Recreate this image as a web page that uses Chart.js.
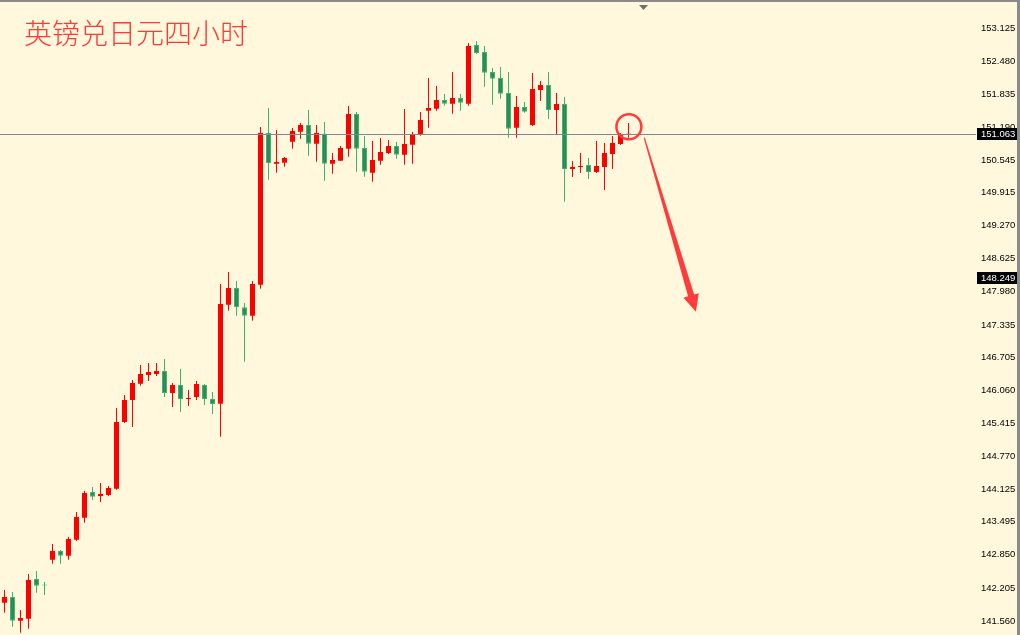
<!DOCTYPE html>
<html>
<head>
<meta charset="utf-8">
<script src="https://cdn.jsdelivr.net/npm/chart.js@4"></script>
<style>
  html, body { margin: 0; padding: 0; background: #fff8dc; }
  #wrap { position: relative; width: 1020px; height: 635px; }
</style>
</head>
<body>
<div id="wrap"><canvas id="chart" width="1020" height="635"></canvas></div>
<script>
const chartTitle = '英镑兑日元四小时';

// GBP/JPY H4 candles
const opens = [141.917, 142.028, 141.565, 141.605, 142.379, 142.256, 142.755, 142.925, 142.833, 143.145,
  143.574, 144.076, 143.998, 144.017, 144.140, 145.441, 145.870, 146.188, 146.357, 146.377,
  146.435, 146.006, 146.162, 145.889, 145.928, 146.162, 145.889, 145.798, 147.728, 148.054,
  147.678, 147.514, 148.119, 151.077, 150.478, 150.498, 150.907, 151.102, 151.233, 150.868,
  151.063, 150.478, 150.537, 150.771, 151.448, 150.785, 150.303, 150.537, 150.687, 150.824,
  150.654, 150.849, 151.044, 151.512, 151.551, 151.721, 151.649, 151.760, 151.649, 152.793,
  152.657, 152.267, 152.150, 151.857, 151.181, 151.584, 151.233, 151.916, 152.013, 151.526,
  151.643, 150.375, 150.414, 150.453, 150.317, 150.414, 150.668, 150.863, 151.044];
const highs = [142.164, 142.125, 141.774, 142.476, 142.535, 142.320, 143.061, 142.944, 143.198, 143.686,
  144.095, 144.173, 144.251, 144.193, 145.714, 145.967, 146.260, 146.552, 146.591, 146.591,
  146.669, 146.201, 146.474, 146.065, 146.240, 146.182, 146.026, 148.132, 148.366, 148.191,
  147.762, 148.191, 151.194, 151.565, 151.136, 150.609, 151.175, 151.272, 151.526, 151.233,
  151.292, 150.687, 150.824, 151.604, 151.487, 151.019, 150.921, 150.980, 150.941, 150.902,
  151.545, 151.097, 151.487, 152.150, 151.994, 151.838, 152.267, 151.838, 152.832, 152.871,
  152.774, 152.345, 152.364, 152.267, 151.799, 151.682, 152.247, 152.091, 152.267, 151.857,
  151.779, 150.531, 150.687, 150.590, 150.921, 150.882, 151.019, 151.077, 151.272];
const lows = [141.722, 141.448, 141.332, 141.409, 142.112, 142.067, 142.677, 142.677, 142.755, 143.120,
  143.477, 143.920, 143.881, 143.998, 144.120, 145.421, 145.343, 146.149, 146.240, 146.338,
  145.928, 145.733, 145.636, 145.753, 145.870, 145.772, 145.597, 145.154, 147.611, 147.514,
  146.617, 147.416, 148.041, 150.166, 150.303, 150.420, 150.771, 150.966, 150.634, 150.517,
  150.147, 150.283, 150.530, 150.615, 150.322, 150.225, 150.127, 150.459, 150.668, 150.576,
  150.459, 150.478, 151.024, 151.181, 151.512, 151.610, 151.454, 151.512, 151.610, 152.618,
  151.980, 151.629, 151.746, 150.985, 150.985, 151.473, 151.214, 151.701, 151.350, 151.038,
  149.737, 150.219, 150.297, 150.180, 150.297, 149.965, 150.375, 150.843, 150.985];
const closes = [142.028, 141.565, 141.618, 142.359, 142.248, 142.250, 142.925, 142.833, 143.159, 143.588,
  144.056, 143.984, 144.037, 144.154, 145.441, 145.870, 146.201, 146.377, 146.416, 146.435,
  146.006, 146.162, 145.889, 145.909, 146.182, 145.889, 145.792, 147.742, 148.054, 147.678,
  147.514, 148.132, 151.077, 150.486, 150.512, 150.590, 151.116, 151.233, 150.868, 151.077,
  150.478, 150.551, 150.785, 151.448, 150.771, 150.322, 150.551, 150.707, 150.824, 150.654,
  150.863, 151.058, 151.331, 151.565, 151.721, 151.649, 151.760, 151.668, 152.774, 152.637,
  152.253, 152.136, 151.844, 151.161, 151.584, 151.493, 151.935, 152.013, 151.526, 151.643,
  150.375, 150.414, 150.434, 150.317, 150.434, 150.687, 150.882, 151.058, 151.063];

const yTicks = [153.125, 152.480, 151.835, 151.190, 150.545, 149.915, 149.270, 148.625, 147.980, 147.335,
  146.705, 146.060, 145.415, 144.770, 144.125, 143.495, 142.850, 142.205, 141.560];
const currentPrice = 151.063;
const markPrice = 148.249;

// empty slots on the right of the last bar
const slotCount = 122;
const slots = Array.from({ length: slotCount }, (_, i) => String(i));

// drawn marks, in bar index / price units
const circleMark = { x: 78.05, y: 151.200 };
const arrowFrom = { x: 79.97, y: 150.985 };
const arrowTo = { x: 86.43, y: 147.592 };

const upColor = '#ff0000';
const downFill = '#2e8b57';
const downLine = '#3cb371';
const isUp = closes.map((c, i) => c >= opens[i]);

const overlay = {
  id: 'overlay',
  afterDatasetsDraw(chart) {
    const ctx = chart.ctx;
    const x = chart.scales.x;
    const y = chart.scales.y;
    const area = chart.chartArea;
    ctx.save();

    // current price line
    const py = Math.round(y.getPixelForValue(currentPrice)) + 0.5;
    ctx.strokeStyle = '#7d8894';
    ctx.lineWidth = 1;
    ctx.beginPath();
    ctx.moveTo(0, py);
    ctx.lineTo(976, py);
    ctx.stroke();

    // circle around last bar
    ctx.strokeStyle = '#ff3c3c';
    ctx.lineWidth = 2.5;
    ctx.beginPath();
    ctx.arc(x.getPixelForValue(circleMark.x), y.getPixelForValue(circleMark.y), 12.5, 0, Math.PI * 2);
    ctx.stroke();

    // arrow
    const ax = x.getPixelForValue(arrowFrom.x), ay = y.getPixelForValue(arrowFrom.y);
    const bx = x.getPixelForValue(arrowTo.x), by = y.getPixelForValue(arrowTo.y);
    const len = Math.hypot(bx - ax, by - ay);
    const ux = (bx - ax) / len, uy = (by - ay) / len;
    const nx = -uy, ny = ux;
    const headLen = 17, headHalf = 8, w0 = 0.6, w1 = 3.2;
    const hx = bx - ux * headLen, hy = by - uy * headLen;
    ctx.fillStyle = '#ff3c3c';
    ctx.beginPath();
    ctx.moveTo(ax + nx * w0, ay + ny * w0);
    ctx.lineTo(hx + nx * w1, hy + ny * w1);
    ctx.lineTo(hx + nx * headHalf, hy + ny * headHalf);
    ctx.lineTo(bx, by);
    ctx.lineTo(hx - nx * headHalf, hy - ny * headHalf);
    ctx.lineTo(hx - nx * w1, hy - ny * w1);
    ctx.lineTo(ax - nx * w0, ay - ny * w0);
    ctx.closePath();
    ctx.fill();

    // price boxes on the scale
    ctx.font = '9.5px "Liberation Sans"';
    ctx.textBaseline = 'middle';
    ctx.textAlign = 'left';
    [currentPrice, markPrice].forEach(v => {
      const vy = y.getPixelForValue(v);
      ctx.fillStyle = '#000';
      ctx.fillRect(977, Math.round(vy) - 6, 40, 12);
      ctx.fillStyle = '#fff';
      ctx.fillText(v.toFixed(3), 981, vy + 0.5);
    });

    // title
    ctx.fillStyle = '#ff3838';
    ctx.font = '300 28px "Noto Sans CJK SC"';
    ctx.textBaseline = 'middle';
    ctx.fillText(chartTitle, 24, 33);

    // frame and shift marker
    ctx.fillStyle = '#8a8a8a';
    ctx.fillRect(0, 0, chart.width, 2);
    ctx.fillRect(1017, 0, 3, chart.height);
    ctx.fillStyle = '#6e6e6e';
    ctx.beginPath();
    ctx.moveTo(639, 5);
    ctx.lineTo(648, 5);
    ctx.lineTo(643.5, 10);
    ctx.closePath();
    ctx.fill();

    ctx.restore();
  }
};

new Chart(document.getElementById('chart'), {
  type: 'bar',
  data: {
    labels: slots,
    datasets: [{
      label: 'body',
      data: opens.map((o, i) => [o, closes[i]]),
      backgroundColor: isUp.map(u => u ? upColor : downFill),
      borderColor: isUp.map(u => u ? upColor : downLine),
      borderWidth: isUp.map(u => u ? 0 : 1),
      borderSkipped: false,
      barThickness: 5,
      minBarLength: 1,
      inflateAmount: 0,
      grouped: false
    }, {
      label: 'wick',
      data: lows.map((l, i) => [l, highs[i]]),
      backgroundColor: isUp.map(u => u ? upColor : downLine),
      borderWidth: 0,
      barThickness: 1,
      minBarLength: 1,
      inflateAmount: 0,
      grouped: false
    }]
  },
  options: {
    responsive: false,
    animation: false,
    layout: { padding: { left: 0.5, right: 0, top: 0, bottom: 0 } },
    plugins: {
      legend: { display: false },
      tooltip: { enabled: false }
    },
    scales: {
      x: { display: false, offset: true, grid: { display: false } },
      y: {
        position: 'right',
        min: 141.287,
        max: 153.671,
        grid: { display: false, drawTicks: false },
        border: { display: false },
        ticks: {
          autoSkip: false,
          padding: 4.5,
          color: '#000',
          font: { family: 'Liberation Sans', size: 9.5 },
          callback: v => Number(v).toFixed(3)
        },
        afterBuildTicks: s => { s.ticks = yTicks.map(v => ({ value: v })); },
        afterFit: s => { s.width = 43.5; s.paddingTop = 0; s.paddingBottom = 0; }
      }
    }
  },
  plugins: [overlay]
});
</script>
</body>
</html>
